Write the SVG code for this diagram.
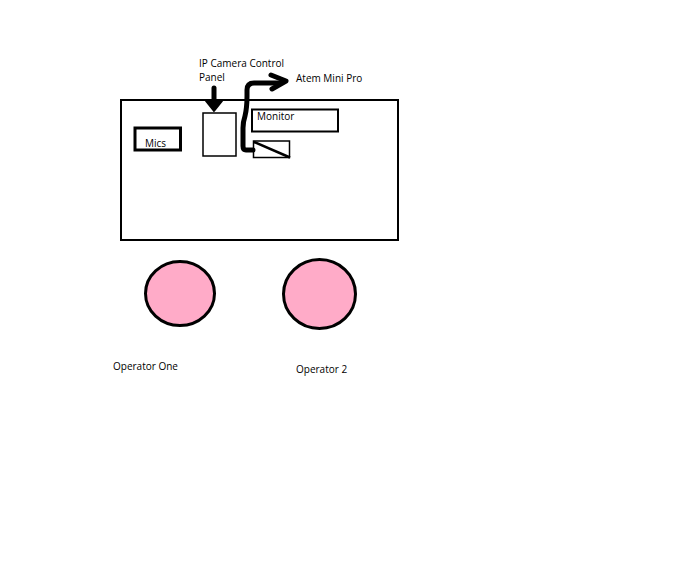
<svg xmlns="http://www.w3.org/2000/svg" width="696" height="564" viewBox="0 0 696 564">
<style>
text{font-family:"Open Sans","Noto Sans","Liberation Sans",sans-serif;font-size:10px;fill:#000}
.box{fill:#fff;stroke:#000}
.op{fill:#ffabc8;stroke:#000;stroke-width:3}
.thick{fill:none;stroke:#000;stroke-width:5;stroke-linecap:round;stroke-linejoin:round}
</style>
<rect width="696" height="564" fill="#fff"/>
<g id="desk"><rect class="box" x="121" y="100" width="277" height="140" stroke-width="2"/></g>
<g id="mics"><rect class="box" x="135" y="128" width="45.5" height="22" stroke-width="3"/><text x="145" y="147">Mics</text></g>
<g id="panel"><rect class="box" x="203" y="113" width="33" height="43" stroke-width="1.5"/></g>
<g id="monitor"><rect class="box" x="252" y="109.5" width="86" height="22" stroke-width="2"/><text x="257" y="120">Monitor</text></g>
<g id="atem"><rect class="box" x="253.5" y="141" width="36" height="16.5" stroke-width="1.5"/><line x1="254" y1="142" x2="290" y2="157.5" stroke="#000" stroke-width="2.5"/></g>
<g id="labels">
<text x="199" y="67">IP Camera Control</text>
<text x="199" y="81">Panel</text>
<text x="296" y="82">Atem Mini Pro</text>
</g>
<g id="operator1"><ellipse class="op" cx="180" cy="293.5" rx="34.5" ry="32"/><text x="113" y="370">Operator One</text></g>
<g id="operator2"><ellipse class="op" cx="319.5" cy="294" rx="36" ry="34.5"/><text x="296" y="373">Operator 2</text></g>
<g id="connectors">
<line class="thick" x1="214" y1="88" x2="214" y2="103" stroke-width="5.5"/>
<path d="M206 101 L222 101 L214 111 Z" fill="#000" stroke="#000" stroke-width="2" stroke-linejoin="round"/>
<path class="thick" d="M253 150 L246 150 Q243 150 243 146 L243 128 Q243 122 245 116 Q247 108 247 96 L247 90 Q247 83 254 83 L280 83"/>
<path class="thick" d="M271 75 L286 81 L272 89" stroke-width="6"/>
</g>
</svg>
